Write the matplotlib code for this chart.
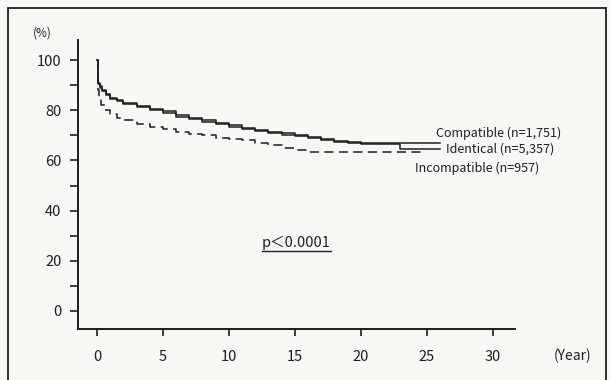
import matplotlib
matplotlib.use("Agg")
import matplotlib.pyplot as plt
from matplotlib.lines import Line2D
from matplotlib.patches import Rectangle

plt.rcParams["font.family"] = ["Noto Sans CJK JP", "DejaVu Sans"]

# Kaplan-Meier style survival curves (years, %)
compat_t = [0, 0.05, 0.1, 0.2, 0.4, 0.7, 1, 1.5, 2, 3, 4, 5, 6, 7, 8, 9, 10,
            11, 12, 13, 14, 15, 16, 17, 18, 19, 20, 26]
compat_s = [100, 94, 91, 89.5, 88, 86.5, 85, 84, 83, 81.8, 80.5, 79.5, 78, 77,
            76, 75, 74, 73, 72.3, 71.5, 70.8, 70, 69.3, 68.5, 67.8, 67.2, 66.8, 66.8]

ident_t = [0, 0.05, 0.1, 0.2, 0.4, 0.7, 1, 1.5, 2, 3, 4, 5, 6, 7, 8, 9, 10,
           11, 12, 13, 14, 15, 16, 17, 18, 19, 20, 23, 26]
ident_s = [100, 93, 90.5, 89, 87.5, 86, 84.5, 83.5, 82.5, 81.2, 80, 79, 77.5, 76.5,
           75.5, 74.5, 73.5, 72.5, 71.8, 71, 70.3, 69.6, 69, 68.2, 67.5, 67, 66.6,
           64.5, 64.5]

incomp_t = [0, 0.05, 0.15, 0.3, 0.6, 1, 1.5, 2, 3, 4, 5, 6, 7, 8, 9, 10, 11,
            12, 13, 14, 15, 16, 24.7]
incomp_s = [100, 88, 85, 82, 80, 78.5, 77, 76, 74.5, 73.5, 72.5, 71.5, 70.5, 70,
            69, 68.5, 68, 67, 66, 65, 64, 63.5, 63.5]

labels = ["Compatible (n=1,751)", "Identical (n=5,357)", "Incompatible (n=957)"]
x_ticks = [0, 5, 10, 15, 20, 25, 30]
y_ticks = [0, 20, 40, 60, 80, 100]
y_minor = [10, 30, 50, 70, 90]

ink = "#1e1e1e"
bg = "#f7f7f4"

fig = plt.figure(figsize=(6.1, 3.8), dpi=100, facecolor=bg)
ax = fig.add_axes([78 / 610, 1 - 329 / 380, (515 - 78) / 610, (329 - 40) / 380])
ax.set_facecolor(bg)

# outer frame of the scanned figure
fig.patches.append(Rectangle((8 / 610, -0.05), (606 - 8) / 610, 1.05 - 8 / 380,
                             transform=fig.transFigure, fill=False,
                             edgecolor=ink, linewidth=1.3))

ax.step(compat_t, compat_s, where="post", color=ink, lw=1.1)
ax.step(ident_t, ident_s, where="post", color=ink, lw=1.1)
ax.step(incomp_t, incomp_s, where="post", color=ink, lw=1.1,
        linestyle=(0, (6, 3.5)))

ax.set_xlim(-1.44, 31.7)
ax.set_ylim(-7.2, 108)

for s in ["top", "right"]:
    ax.spines[s].set_visible(False)
for s in ["left", "bottom"]:
    ax.spines[s].set_linewidth(1.4)
    ax.spines[s].set_color(ink)

ax.set_xticks(x_ticks)
ax.set_yticks(y_ticks)
ax.set_yticks(y_minor, minor=True)
ax.tick_params(axis="y", which="major", length=6, width=1.2, pad=6,
               labelsize=10.5, colors=ink)
ax.tick_params(axis="y", which="minor", length=6, width=1.2, colors=ink)
ax.tick_params(axis="x", which="major", length=5, width=1.2, pad=10,
               labelsize=10.5, colors=ink)

# curve labels
ax.text(25.7, 70.8, labels[0], fontsize=9, color=ink, ha="left", va="center")
ax.text(26.5, 64.5, labels[1], fontsize=9, color=ink, ha="left", va="center")
ax.text(24.1, 56.8, labels[2], fontsize=9, color=ink, ha="left", va="center")

ptxt = ax.text(15.1, 27, "p＜0.0001", fontsize=10.5, color=ink, ha="center",
               va="center")

fig.text(42 / 610, 1 - 33 / 380, "(%)", fontsize=8.5, color=ink,
         ha="center", va="center")
fig.text(573 / 610, 1 - 356 / 380, "(Year)", fontsize=10, color=ink,
         ha="center", va="center")

# underline the p-value text
fig.canvas.draw()
bb = ptxt.get_window_extent()
uy = bb.y0 - 1
fig.lines.append(Line2D([bb.x0, bb.x1], [uy, uy], transform=None,
                        color=ink, lw=1.0))

fig.savefig("out.png", dpi=100, facecolor=bg)
